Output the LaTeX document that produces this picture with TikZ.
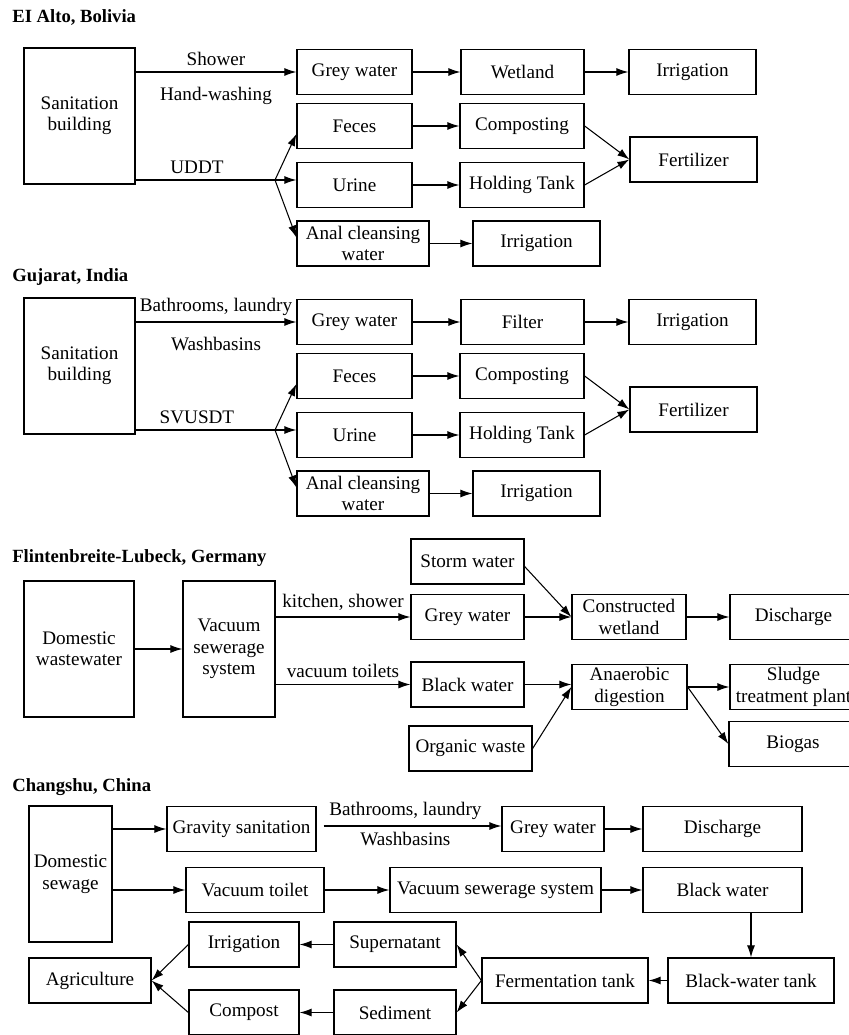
\documentclass[tikz,border=0pt]{standalone}
\usepackage{fontspec}
\setmainfont{Liberation Serif}
\usetikzlibrary{arrows.meta,calc}

\begin{document}
\begin{tikzpicture}[x=0.2mm,y=-0.2mm,
  every node/.style={font=\fontsize{10.9}{12.2}\selectfont},
  box/.style={draw,line width=0.7pt,minimum height=9mm,align=center,inner sep=1pt},
  tall/.style={box,minimum height=27.2mm},
  title/.style={anchor=west,inner sep=0pt,font=\fontsize{10.6}{12}\selectfont\bfseries},
  arr/.style={line width=0.6pt,-{Latex[length=2.4mm,width=1.6mm]}}]
\useasboundingbox (0,0) rectangle (848,1035);

\node[title] (t1) at (12,17) {EI Alto, Bolivia};
\node[tall,minimum width=22.2mm] (sb1) at (79.5,116) {Sanitation\\building};
\node[box,minimum width=23mm] (gw1) at (354.5,72) {Grey water};
\node[box,minimum width=24.6mm] (wl1) at (522.5,72) {Wetland};
\node[box,minimum width=25.4mm] (ir1) at (692.5,72) {Irrigation};
\node[box,minimum width=23mm] (fe1) at (354.5,126) {Feces};
\node[box,minimum width=24.8mm] (co1) at (522,126) {Composting};
\node[box,minimum width=23mm] (ur1) at (354.5,185) {Urine};
\node[box,minimum width=24.8mm] (ht1) at (522,185) {Holding Tank};
\node[box,minimum width=25.4mm] (fz1) at (693.5,159.5) {Fertilizer};
\node[box,minimum width=26.4mm] (an1) at (363,243.5) {Anal cleansing\\water};
\node[box,minimum width=25.4mm] (ib1) at (536.5,243.5) {Irrigation};
\coordinate (sp1) at (275,180);

\draw[arr] (sb1.east |- gw1) -- node[above]{Shower} node[below=5pt]{Hand-washing} (gw1);
\draw[arr] (gw1) -- (wl1);
\draw[arr] (wl1) -- (ir1);
\draw[line width=0.6pt] (sb1.east |- sp1) -- node[above,pos=0.44]{UDDT} (sp1);
\draw[arr] (sp1) -- ([yshift=-1.6mm]fe1.west);
\draw[arr] (sp1) -- (sp1 -| ur1.west);
\draw[arr] (sp1) -- ([yshift=1.2mm]an1.west);
\draw[arr] (fe1) -- (co1);
\draw[arr] (ur1) -- (ht1);
\draw[arr] (an1) -- (ib1);
\draw[arr] (co1.east) -- (fz1.west);
\draw[arr] (ht1.east) -- (fz1.west);

\node[title] (t2) at (12,277) {Gujarat, India};
\node[tall,minimum width=22.2mm] (sb2) at (79.5,366) {Sanitation\\building};
\node[box,minimum width=23mm] (gw2) at (354.5,322) {Grey water};
\node[box,minimum width=24.6mm] (fi2) at (522.5,322) {Filter};
\node[box,minimum width=25.4mm] (ir2) at (692.5,322) {Irrigation};
\node[box,minimum width=23mm] (fe2) at (354.5,376) {Feces};
\node[box,minimum width=24.8mm] (co2) at (522,376) {Composting};
\node[box,minimum width=23mm] (ur2) at (354.5,435) {Urine};
\node[box,minimum width=24.8mm] (ht2) at (522,435) {Holding Tank};
\node[box,minimum width=25.4mm] (fz2) at (693.5,409.5) {Fertilizer};
\node[box,minimum width=26.4mm] (an2) at (363,493.5) {Anal cleansing\\water};
\node[box,minimum width=25.4mm] (ib2) at (536.5,493.5) {Irrigation};
\coordinate (sp2) at (275,430);

\draw[arr] (sb2.east |- gw2) -- node[above]{Bathrooms, laundry} node[below=5pt]{Washbasins} (gw2);
\draw[arr] (gw2) -- (fi2);
\draw[arr] (fi2) -- (ir2);
\draw[line width=0.6pt] (sb2.east |- sp2) -- node[above,pos=0.44]{SVUSDT} (sp2);
\draw[arr] (sp2) -- ([yshift=-1.6mm]fe2.west);
\draw[arr] (sp2) -- (sp2 -| ur2.west);
\draw[arr] (sp2) -- ([yshift=1.2mm]an2.west);
\draw[arr] (fe2) -- (co2);
\draw[arr] (ur2) -- (ht2);
\draw[arr] (an2) -- (ib2);
\draw[arr] (co2.east) -- (fz2.west);
\draw[arr] (ht2.east) -- (fz2.west);

\node[title] (t3) at (12,558) {Flintenbreite-Lubeck, Germany};
\node[tall,minimum width=22mm] (dw3) at (79,649) {Domestic\\wastewater};
\node[tall,minimum width=18.4mm] (vs3) at (229,649) {Vacuum\\sewerage\\system};
\node[box,minimum width=22.6mm] (st3) at (467.5,561.5) {Storm water};
\node[box,minimum width=22.6mm] (gw3) at (467.5,617) {Grey water};
\node[box,minimum width=22.8mm] (cw3) at (629,617) {Constructed\\wetland};
\node[box,minimum width=25.4mm] (dc3) at (793.5,617) {Discharge};
\node[box,minimum width=22.6mm] (bw3) at (467.5,684.5) {Black water};
\node[box,minimum width=23mm] (ad3) at (629.5,687) {Anaerobic\\digestion};
\node[box,minimum width=25.4mm] (sl3) at (793.5,687) {Sludge\\treatment plant};
\node[box,minimum width=25.6mm] (bg3) at (793,744) {Biogas};
\node[box,minimum width=24.6mm] (ow3) at (470.5,748.5) {Organic waste};

\draw[arr] (dw3) -- (vs3);
\draw[arr] (vs3.east |- gw3) -- node[above]{kitchen, shower} (gw3);
\draw[arr] (vs3.east |- bw3) -- node[above]{vacuum toilets} (bw3);
\draw[arr] ([yshift=-1mm]st3.east) -- (cw3.west);
\draw[arr] (gw3) -- (cw3);
\draw[arr] (cw3) -- (dc3);
\draw[arr] (bw3) -- (bw3 -| ad3.west);
\draw[arr] (ow3.east) -- (ad3.west);
\draw[arr] (ad3) -- (sl3);
\draw[arr] (ad3.east) -- (bg3.west);

\node[title] (t4) at (12,787) {Changshu, China};
\node[tall,minimum width=16.6mm] (ds4) at (70.5,874) {Domestic\\sewage};
\node[box,minimum width=29.8mm] (gs4) at (241.5,829) {Gravity sanitation};
\node[box,minimum width=20.4mm] (gw4) at (553,829) {Grey water};
\node[box,minimum width=31.8mm] (dc4) at (722.5,829) {Discharge};
\node[box,minimum width=27.6mm] (vt4) at (255,890) {Vacuum toilet};
\node[box,minimum width=42.2mm] (vs4) at (495.5,890) {Vacuum sewerage system};
\node[box,minimum width=31.8mm] (bw4) at (722.5,890) {Black water};
\node[box,minimum width=22mm] (ir4) at (244,944.5) {Irrigation};
\node[box,minimum width=24.4mm] (su4) at (395,944.5) {Supernatant};
\node[box,minimum width=24.4mm] (ag4) at (90,980.5) {Agriculture};
\node[box,minimum width=22mm] (cp4) at (244,1012.5) {Compost};
\node[box,minimum width=24.4mm] (se4) at (395,1012.5) {Sediment};
\node[box,minimum width=33.2mm] (ft4) at (565,980.5) {Fermentation tank};
\node[box,minimum width=33.2mm] (bt4) at (751,980.5) {Black-water tank};

\draw[arr] (ds4.east |- gs4) -- (gs4);
\draw[arr] ([xshift=1.4mm,yshift=0.6mm]gs4.east) -- node[above,pos=0.46]{Bathrooms, laundry} node[below,pos=0.46]{Washbasins} ([yshift=0.6mm]gw4.west);
\draw[arr] (gw4) -- (dc4);
\draw[arr] (ds4.east |- vt4) -- (vt4);
\draw[arr] (vt4) -- (vs4);
\draw[arr] (vs4) -- (bw4);
\draw[arr] (bt4.north |- bw4.south) -- (bt4.north);
\draw[arr] (bt4) -- (ft4);
\draw[arr] (ft4.west) -- (su4.east);
\draw[arr] (ft4.west) -- (se4.east);
\draw[arr] (su4) -- (ir4);
\draw[arr] (se4) -- (cp4);
\draw[arr] (ir4.west) -- (ag4.east);
\draw[arr] (cp4.west) -- (ag4.east);

\end{tikzpicture}
\end{document}
